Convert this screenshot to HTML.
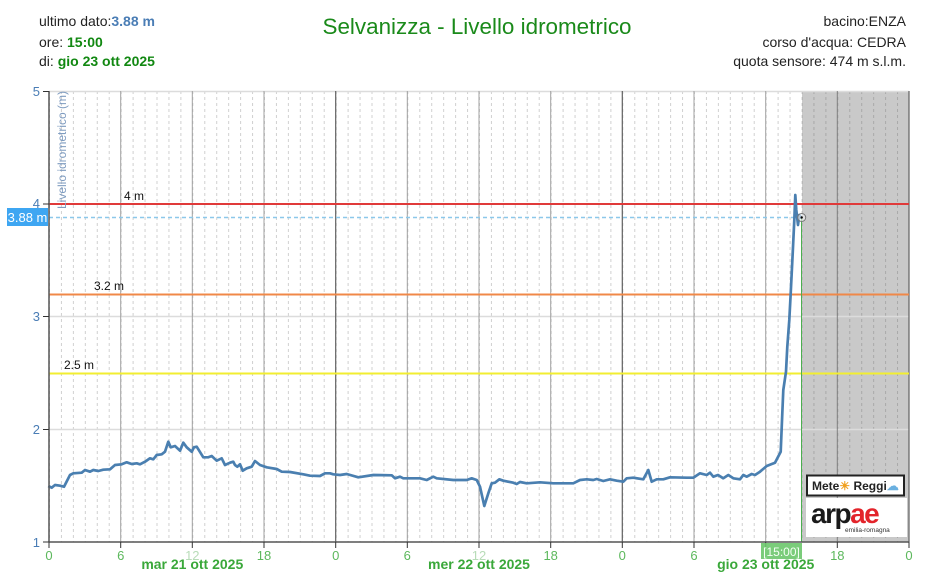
<!DOCTYPE html>
<html><head><meta charset="utf-8">
<style>
html,body{margin:0;padding:0;background:#fff;}
svg{display:block;font-family:"Liberation Sans",Arial,sans-serif;}
</style></head>
<body>
<svg width="944" height="580" viewBox="0 0 944 580" xmlns="http://www.w3.org/2000/svg">
<defs>
<pattern id="hd" patternUnits="userSpaceOnUse" x="49" y="91" width="11.9444" height="6">
<line x1="0.5" y1="0" x2="0.5" y2="3" stroke="#d0d0d0" stroke-width="1"/>
</pattern>
<pattern id="hd2" patternUnits="userSpaceOnUse" x="49" y="91" width="11.9444" height="6">
<line x1="0.5" y1="0" x2="0.5" y2="3" stroke="#a8a8a8" stroke-width="1"/>
</pattern>
</defs>
<rect width="944" height="580" fill="#fff"/>
<!-- header -->
<text x="39" y="26" font-size="14" fill="#222">ultimo dato:<tspan font-weight="bold" fill="#4a7db5">3.88 m</tspan></text>
<text x="39" y="47" font-size="14" fill="#222">ore: <tspan font-weight="bold" fill="#118811">15:00</tspan></text>
<text x="39" y="66" font-size="14" fill="#222">di: <tspan font-weight="bold" fill="#118811">gio 23 ott 2025</tspan></text>
<text x="477" y="34" font-size="22" fill="#1a8a1a" text-anchor="middle" textLength="309" lengthAdjust="spacingAndGlyphs">Selvanizza - Livello idrometrico</text>
<text x="906" y="26" font-size="14" fill="#222" text-anchor="end">bacino:ENZA</text>
<text x="906" y="47" font-size="14" fill="#222" text-anchor="end">corso d'acqua: CEDRA</text>
<text x="906" y="66" font-size="14" fill="#222" text-anchor="end">quota sensore: 474 m s.l.m.</text>

<!-- shaded future area -->
<rect x="802" y="91" width="107" height="451" fill="#c9c9c9"/>
<!-- hourly dashed grid -->
<rect x="49" y="91" width="753" height="451" fill="url(#hd)"/>
<rect x="802" y="91" width="107" height="451" fill="url(#hd2)"/>
<!-- horizontal grid -->
<g stroke="#dcdcdc" stroke-width="1.5">
<line x1="49" y1="91.5" x2="909" y2="91.5"/>
<line x1="49" y1="316.5" x2="909" y2="316.5"/>
<line x1="49" y1="429.5" x2="909" y2="429.5"/>
</g>
<!-- 6h solid grid -->
<g stroke="#a0a0a0" stroke-width="1">
<line x1="120.7" y1="91" x2="120.7" y2="542"/>
<line x1="192.3" y1="91" x2="192.3" y2="542"/>
<line x1="264" y1="91" x2="264" y2="542"/>
<line x1="407.3" y1="91" x2="407.3" y2="542"/>
<line x1="479" y1="91" x2="479" y2="542"/>
<line x1="550.7" y1="91" x2="550.7" y2="542"/>
<line x1="694" y1="91" x2="694" y2="542"/>
<line x1="765.7" y1="91" x2="765.7" y2="542"/>
<line x1="837.3" y1="91" x2="837.3" y2="542" stroke="#808080"/>
</g>
<g stroke="#606060" stroke-width="1.2">
<line x1="335.7" y1="91" x2="335.7" y2="542"/>
<line x1="622.3" y1="91" x2="622.3" y2="542"/>
<line x1="909" y1="91" x2="909" y2="542"/>
</g>

<!-- thresholds -->
<line x1="49" y1="204" x2="909" y2="204" stroke="#e03a3a" stroke-width="2"/>
<line x1="49" y1="294.5" x2="909" y2="294.5" stroke="#f08848" stroke-width="2"/>
<line x1="49" y1="373.5" x2="909" y2="373.5" stroke="#f2ee30" stroke-width="2"/>
<text x="124" y="200" font-size="12" fill="#111">4 m</text>
<text x="94" y="290" font-size="12" fill="#111">3.2 m</text>
<text x="64" y="369" font-size="12" fill="#111">2.5 m</text>

<!-- last value dashed line -->
<line x1="49" y1="217.5" x2="800" y2="217.5" stroke="#8cc8ea" stroke-width="1.5" stroke-dasharray="4,3"/>
<!-- now line -->
<line x1="801.5" y1="217" x2="801.5" y2="542" stroke="#4caf50" stroke-width="1"/>

<!-- data -->
<polyline fill="none" stroke="#4a7fb0" stroke-width="2.7" stroke-linejoin="round" points="
48.3,486 51.7,487.7 55,485 60,485.7 64,486.7 70,475 73.3,473.3 81.7,472.7 85,470 90,471.7 93.3,470 98.3,471 103.3,469.7 110,469.3 115,465 121.7,464.3 126.7,462.3 131.7,464 136.7,463.3 140,464.3 145,461.7 150,458.3 153.3,459.3 156.7,455 161.7,454.3 165,451.7 168.3,441.7 170.7,447.3 175,446 180,450.7 183.3,442.7 186.7,447.3 191.7,451.7 194,447.3 196.7,446.7 203.3,457.3 208.3,457.3 211.7,456 216.7,460.7 221.7,458.3 225,465 230,462.7 233.3,461.7 235,465 237.3,466.7 240,464.3 242.7,470.7 246.7,468.3 251.7,466.7 255,461 260,465 266.7,467.3 276.7,469 281.7,471.7 290,472 303.3,474.3 310,475.7 320,476 325,473.3 330,473.3 333.3,474.3 340,475 346.7,474 358.3,477.3 373.3,475 391.7,475.3 395,478.3 400,476.7 403.3,478.3 420,478.3 426.7,480 433.3,476.7 436.7,478.3 453.3,480 466.7,480 471.7,478.3 476.7,480 480,486.7 484.3,506 488.3,493.3 491.7,483.3 495,482.7 499.3,479.3 503.3,480.7 513.3,482.7 516.7,484 520,482 526.7,483.3 540,482.3 553.3,483.3 573.3,483.3 580,480 586.7,479.3 593.3,480 596.7,479 603.3,481 610,479.3 616.7,480.7 623.3,481.7 626.7,478.3 633.3,477.7 643.3,479.3 648.3,470 651.7,481.7 656.7,479.3 663.3,479.3 670,477.3 686.7,477.7 693.3,477.7 700,473.3 706.7,475 710,472.7 713.3,476.7 718,475 723.3,478.3 728.3,475 733.3,478.3 740,479.3 743.3,475 746.7,476.7 751.7,474 755,475 760,471.7 766.7,466 775,462.7 780.7,451.7 782.3,413.3 783.3,390 786,371.7 787.3,346.7 789.3,320 790.7,293.3 792.7,253.3 794.3,220 795.3,195 796.3,210 798,225 799.3,215 801.7,218.3"/>
<circle cx="801.7" cy="217.5" r="4" fill="#f4f4f4" fill-opacity="0.6" stroke="#777" stroke-width="1"/>
<circle cx="801.7" cy="217.5" r="1.2" fill="#000"/>

<!-- axes -->
<line x1="49" y1="91" x2="49" y2="542" stroke="#555" stroke-width="1.5"/>
<line x1="49" y1="542" x2="909" y2="542" stroke="#555" stroke-width="1.5"/>
<g stroke="#333" stroke-width="1">
<line x1="43" y1="91.5" x2="49" y2="91.5"/>
<line x1="43" y1="204" x2="49" y2="204"/>
<line x1="43" y1="316.5" x2="49" y2="316.5"/>
<line x1="43" y1="429.5" x2="49" y2="429.5"/>
<line x1="43" y1="542" x2="49" y2="542"/>
<line x1="49" y1="542" x2="49" y2="548"/>
<line x1="120.7" y1="542" x2="120.7" y2="548"/>
<line x1="192.3" y1="542" x2="192.3" y2="548"/>
<line x1="264" y1="542" x2="264" y2="548"/>
<line x1="335.7" y1="542" x2="335.7" y2="548"/>
<line x1="407.3" y1="542" x2="407.3" y2="548"/>
<line x1="479" y1="542" x2="479" y2="548"/>
<line x1="550.7" y1="542" x2="550.7" y2="548"/>
<line x1="622.3" y1="542" x2="622.3" y2="548"/>
<line x1="694" y1="542" x2="694" y2="548"/>
<line x1="765.7" y1="542" x2="765.7" y2="548"/>
<line x1="837.3" y1="542" x2="837.3" y2="548"/>
<line x1="909" y1="542" x2="909" y2="548"/>
</g>
<g font-size="13" fill="#4a7db5" text-anchor="end">
<text x="40" y="96">5</text>
<text x="40" y="208">4</text>
<text x="40" y="321">3</text>
<text x="40" y="434">2</text>
<text x="40" y="547">1</text>
</g>
<text transform="translate(66,150) rotate(-90)" font-size="12" fill="#7f9cc0" text-anchor="middle">Livello idrometrico (m)</text>

<!-- 3.88 label -->
<rect x="7" y="208" width="41" height="18" fill="#3ea6f2"/>
<text x="27.5" y="222" font-size="13" fill="#fff" text-anchor="middle">3.88 m</text>

<!-- x labels -->
<g font-size="13" fill="#5cb85c" text-anchor="middle">
<text x="49" y="560">0</text>
<text x="120.7" y="560">6</text>
<text x="192.3" y="560" fill="#b8dcb8">12</text>
<text x="264" y="560">18</text>
<text x="335.7" y="560">0</text>
<text x="407.3" y="560">6</text>
<text x="479" y="560" fill="#b8dcb8">12</text>
<text x="550.7" y="560">18</text>
<text x="622.3" y="560">0</text>
<text x="694" y="560">6</text>
<text x="837.3" y="560">18</text>
<text x="909" y="560">0</text>
</g>
<rect x="761" y="543" width="41" height="16" fill="#6cc66c" fill-opacity="0.9"/>
<text x="781.5" y="556" font-size="12" fill="#f4fff4" text-anchor="middle">[15:00]</text>
<g font-size="14" font-weight="bold" fill="#3aa83a" text-anchor="middle">
<text x="192.3" y="569">mar 21 ott 2025</text>
<text x="479" y="569">mer 22 ott 2025</text>
<text x="765.7" y="569">gio 23 ott 2025</text>
</g>

<!-- logos -->
<rect x="807" y="475.5" width="97" height="20" fill="#fff" stroke="#222" stroke-width="2"/>
<text x="812" y="490" font-size="12" font-weight="bold" fill="#222">Mete<tspan fill="#f0a020">☀</tspan> Reggi<tspan fill="#6ab0e0">☁</tspan></text>
<rect x="806" y="498" width="101" height="39" fill="#fff"/>
<text x="811" y="523" font-size="28" font-weight="bold" fill="#1a1a1a" letter-spacing="-1.5">arp<tspan fill="#e3242b">ae</tspan></text>
<text x="845" y="532" font-size="6.5" fill="#333">emilia-romagna</text>
</svg>
</body></html>
